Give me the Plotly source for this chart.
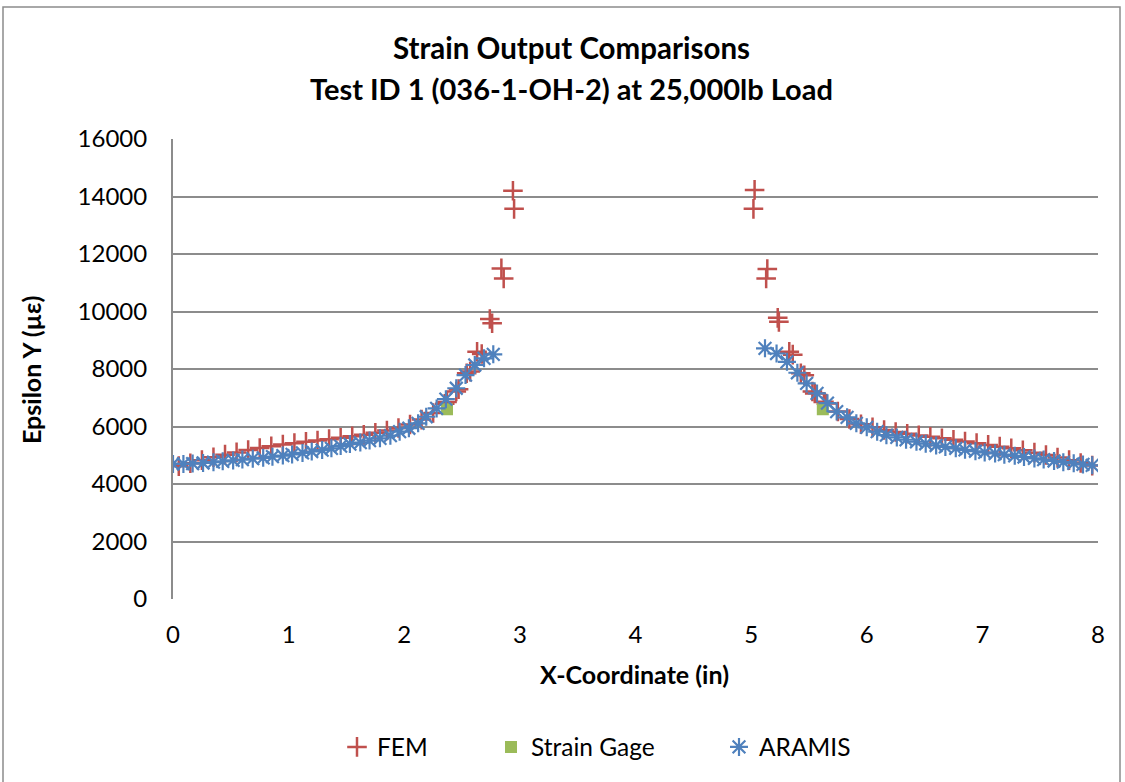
import plotly.graph_objects as go

# ---------------- data ----------------
fem_x = [0.05, 0.15, 0.25, 0.35, 0.45, 0.55, 0.65, 0.75, 0.85, 0.95,
         1.05, 1.15, 1.25, 1.35, 1.45, 1.55, 1.65, 1.75, 1.85, 1.95,
         2.05, 2.15, 2.25, 2.35, 2.37, 2.45, 2.47, 2.54, 2.57, 2.63, 2.67,
         2.74, 2.76, 2.84, 2.86, 2.94, 2.95,
         5.03, 5.02, 5.14, 5.13, 5.23, 5.24, 5.33, 5.36, 5.43, 5.46,
         5.53, 5.55, 5.63, 5.65, 5.75, 5.85, 5.95,
         6.05, 6.15, 6.25, 6.35, 6.45, 6.55, 6.65, 6.75, 6.85, 6.95,
         7.05, 7.15, 7.25, 7.35, 7.45, 7.55, 7.65, 7.75, 7.85, 7.95]
fem_y = [4620, 4720, 4830, 4930, 5020, 5100, 5180, 5250, 5310, 5370,
         5420, 5470, 5510, 5560, 5610, 5660, 5710, 5780, 5860, 5950,
         6070, 6240, 6470, 6790, 6850, 7220, 7300, 7850, 7910, 8600, 8520,
         9740, 9590, 11500, 11150, 14200, 13570,
         14230, 13570, 11480, 11150, 9780, 9640, 8600, 8500, 7850, 7780,
         7220, 7150, 6860, 6800, 6520, 6260, 6080,
         5970, 5880, 5810, 5750, 5690, 5640, 5590, 5540, 5480, 5420,
         5360, 5300, 5240, 5170, 5090, 5010, 4920, 4830, 4730, 4640]

gage_x = [2.37, 5.62]
gage_y = [6600, 6600]

aramis_x = [0.00, 0.09, 0.17, 0.26, 0.35, 0.43, 0.52, 0.60, 0.69, 0.78,
            0.86, 0.95, 1.03, 1.12, 1.20, 1.29, 1.37, 1.45, 1.53, 1.62,
            1.70, 1.79, 1.88, 1.96, 2.04, 2.12, 2.19, 2.28, 2.36, 2.45,
            2.53, 2.61, 2.69, 2.77,
            5.12, 5.22, 5.31, 5.40, 5.48, 5.57, 5.66, 5.74, 5.83, 5.91,
            6.00, 6.09, 6.17, 6.26, 6.34, 6.43, 6.51, 6.60, 6.68, 6.77,
            6.85, 6.94, 7.02, 7.11, 7.19, 7.28, 7.36, 7.45, 7.53, 7.62,
            7.70, 7.79, 7.87, 7.95]
aramis_y = [4700, 4700, 4710, 4730, 4760, 4790, 4820, 4850, 4880, 4910,
            4950, 4990, 5030, 5080, 5130, 5180, 5240, 5320, 5390, 5440,
            5510, 5590, 5680, 5820, 5940, 6110, 6340, 6630, 6950, 7330,
            7790, 8140, 8370, 8510,
            8720, 8540, 8250, 7870, 7500, 7150, 6810, 6520, 6320, 6110,
            5970, 5820, 5700, 5620, 5540, 5470, 5400, 5340, 5290, 5240,
            5190, 5140, 5100, 5060, 5020, 4980, 4940, 4890, 4850, 4800,
            4760, 4720, 4680, 4650]

title_lines = ["Strain Output Comparisons",
               "Test ID 1 (036-1-OH-2) at 25,000lb Load"]
x_title = "X-Coordinate (in)"
y_title = "Epsilon Y (µε)"
y_ticks = [0, 2000, 4000, 6000, 8000, 10000, 12000, 14000, 16000]
x_ticks = [0, 1, 2, 3, 4, 5, 6, 7, 8]

# ---------------- figure ----------------
FONT = "Lato"
RED = "#C0504D"
GREEN = "#9BBB59"
BLUE = "#4F81BD"
GRID = "#8C8C8C"

W, H = 1125, 782
L, R, T, B = 173, 27, 139, 183
pw, ph = W - L - R, H - T - B

def px(xp):
    return (xp - L) / pw

def py(yp):
    return (H - B - yp) / ph

fig = go.Figure()
fig.add_trace(go.Scatter(
    x=fem_x, y=fem_y, mode="markers", name="FEM",
    marker=dict(symbol="cross-thin-open", size=14, color=RED,
                line=dict(color=RED, width=2.5)),
    legend="legend"))
fig.add_trace(go.Scatter(
    x=gage_x, y=gage_y, mode="markers", name="Strain Gage",
    marker=dict(symbol="square", size=12, color=GREEN,
                line=dict(width=0)),
    legend="legend2"))
fig.add_trace(go.Scatter(
    x=aramis_x, y=aramis_y, mode="markers", name="ARAMIS",
    marker=dict(symbol="asterisk-open", size=15, color=BLUE,
                line=dict(color=BLUE, width=2.2)),
    legend="legend3"))

legend_common = dict(orientation="h", yanchor="middle", xanchor="left",
                     font=dict(family=FONT, size=24.5, color="#000000"),
                     bgcolor="rgba(0,0,0,0)", itemwidth=30)
fig.update_layout(
    width=W, height=H,
    margin=dict(l=L, r=R, t=T, b=B),
    paper_bgcolor="white", plot_bgcolor="white",
    font=dict(family=FONT, color="#000000"),
    showlegend=True,
    legend=dict(x=px(337), y=py(747), **legend_common),
    legend2=dict(x=px(491), y=py(747), **legend_common),
    legend3=dict(x=px(719), y=py(747), **legend_common),
    xaxis=dict(range=[0, 8], tickvals=x_ticks, ticktext=[str(v) for v in x_ticks],
               showgrid=False, zeroline=False, showline=False, ticks="",
               tickfont=dict(family=FONT, size=24, color="#000000"),
               ticklabelstandoff=19, fixedrange=True),
    yaxis=dict(range=[0, 16000], tickvals=y_ticks, ticktext=[str(v) for v in y_ticks],
               showgrid=True, gridcolor=GRID, gridwidth=2,
               zeroline=False, showline=True, linecolor=GRID, linewidth=2,
               ticks="", tickfont=dict(family=FONT, size=24, color="#000000"),
               ticklabelstandoff=19, fixedrange=True),
)

# outer chart frame
fig.add_shape(type="rect", xref="paper", yref="paper",
              x0=px(3), x1=px(1120), y0=py(787), y1=py(7),
              line=dict(color="#8C8C8C", width=1.5), fillcolor="rgba(0,0,0,0)",
              layer="below")

# titles
fig.add_annotation(text="<b>%s</b>" % title_lines[0], xref="paper", yref="paper",
                   x=px(571), y=py(47), showarrow=False, xanchor="center", yanchor="middle",
                   font=dict(family=FONT, size=29.5, color="#000000"))
fig.add_annotation(text="<b>%s</b>" % title_lines[1], xref="paper", yref="paper",
                   x=px(571), y=py(88), showarrow=False, xanchor="center", yanchor="middle",
                   font=dict(family=FONT, size=29, color="#000000"))
fig.add_annotation(text="<b>%s</b>" % x_title, xref="paper", yref="paper",
                   x=px(634), y=py(674), showarrow=False, xanchor="center", yanchor="middle",
                   font=dict(family=FONT, size=25, color="#000000"))
fig.add_annotation(text="<b>%s</b>" % y_title, xref="paper", yref="paper",
                   x=px(31), y=py(370), showarrow=False, xanchor="center", yanchor="middle",
                   textangle=-90, font=dict(family=FONT, size=25, color="#000000"))

fig.write_html("out.html",
               config={"displayModeBar": False},
               post_script="document.body.style.margin='0px';document.body.style.padding='0px';")
